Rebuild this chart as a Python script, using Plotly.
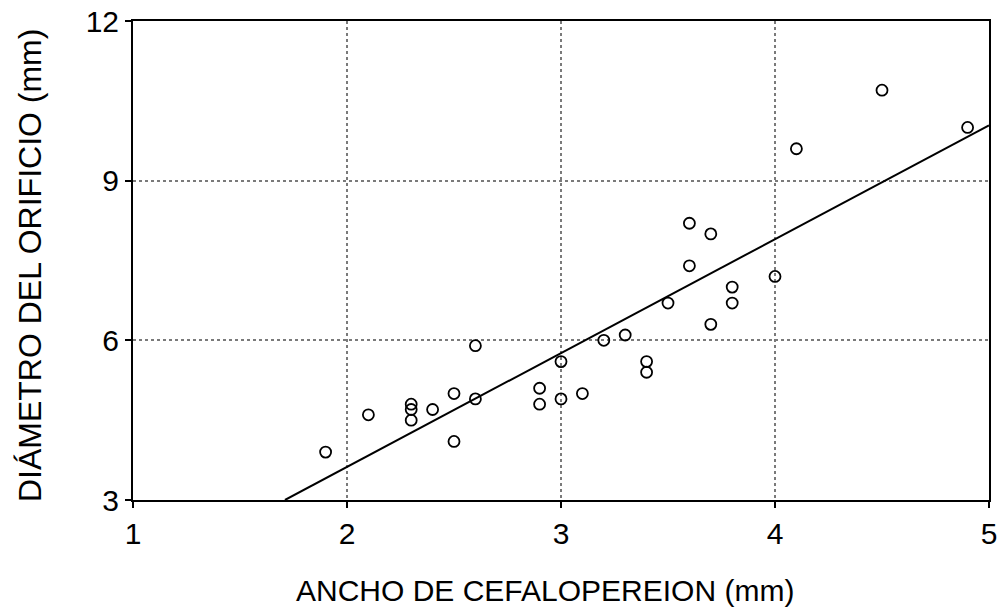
import plotly.graph_objects as go

# Data
ancho = [1.9, 2.1, 2.3, 2.3, 2.3, 2.4, 2.5, 2.5, 2.6, 2.6, 2.9, 2.9, 3.0, 3.0,
         3.1, 3.2, 3.3, 3.4, 3.4, 3.5, 3.6, 3.6, 3.7, 3.7, 3.8, 3.8, 4.0, 4.1,
         4.5, 4.9]
diametro = [3.9, 4.6, 4.8, 4.7, 4.5, 4.7, 5.0, 4.1, 5.9, 4.9, 5.1, 4.8, 5.6, 4.9,
            5.0, 6.0, 6.1, 5.6, 5.4, 6.7, 8.2, 7.4, 8.0, 6.3, 7.0, 6.7, 7.2, 9.6,
            10.7, 10.0]

# Fitted regression line end points (as drawn in the reference)
fit_x = [1.71, 5.0]
fit_y = [3.0, 10.04]

x_ticks = [1, 2, 3, 4, 5]
y_ticks = [3, 6, 9, 12]

x_title = "ANCHO DE CEFALOPEREION (mm)"
y_title = "DIÁMETRO DEL ORIFICIO (mm)"

FONT = "Liberation Sans, Arial, sans-serif"

fig = go.Figure()
fig.add_trace(go.Scatter(
    x=fit_x, y=fit_y, mode="lines",
    line=dict(color="black", width=2),
    showlegend=False, hoverinfo="skip"))
fig.add_trace(go.Scatter(
    x=ancho, y=diametro, mode="markers",
    marker=dict(symbol="circle-open", size=11, color="black",
                line=dict(color="black", width=1.8)),
    showlegend=False))

axis_common = dict(
    showline=True, linecolor="black", linewidth=2, mirror=True,
    showgrid=True, gridcolor="#7a7a7a", gridwidth=2, griddash="dot",
    ticks="outside", ticklen=6, tickwidth=2, tickcolor="black",
    zeroline=False, automargin=False,
    tickfont=dict(family=FONT, size=30, color="black"),
)

fig.update_xaxes(range=[1, 5], tickvals=x_ticks,
                 ticktext=[str(v) for v in x_ticks], **axis_common)
fig.update_yaxes(range=[3, 12], tickvals=y_ticks,
                 ticktext=[str(v) for v in y_ticks], **axis_common)

fig.add_annotation(
    text=x_title, xref="paper", yref="paper", x=0.481, y=-0.188,
    xanchor="center", yanchor="middle", showarrow=False,
    font=dict(family=FONT, size=30, color="black"))
fig.add_annotation(
    text=y_title, xref="paper", yref="paper", x=-0.1203, y=0.4885,
    xanchor="center", yanchor="middle", showarrow=False, textangle=-90,
    font=dict(family=FONT, size=32, color="black"))

fig.update_layout(
    width=1002, height=615,
    margin=dict(l=133, r=13, t=21, b=115),
    plot_bgcolor="white", paper_bgcolor="white",
    font=dict(family=FONT, color="black"),
)

fig.write_html("out.html")
